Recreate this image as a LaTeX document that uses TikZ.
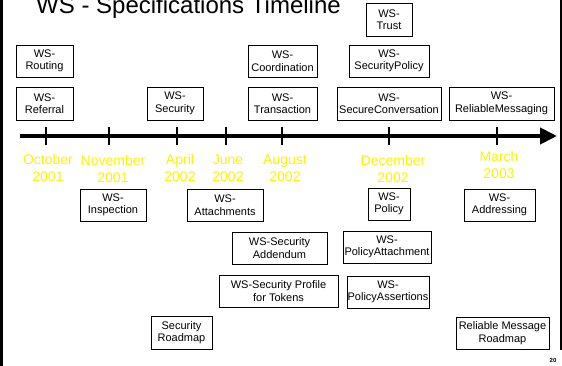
\documentclass[tikz,border=0pt]{standalone}
\usepackage{fontspec}
\setmainfont{Liberation Sans}
\usetikzlibrary{arrows.meta}
\tikzset{
  box/.style={draw=black, line width=0.8pt, fill=white, inner sep=0pt, align=center,
    font=\fontsize{11}{12.5}\selectfont},
  datelbl/.style={text=yellow, align=center, inner sep=0pt, font=\fontsize{14}{17}\selectfont},
  tickmark/.style={line width=2.5pt},
}
\begin{document}
\begin{tikzpicture}[x=1pt,y=-1pt]
\path[use as bounding box, fill=white] (0,0) rectangle (562,366);
\clip (0,0) rectangle (562,366);
% borders
\draw[line width=2.5pt] (1.5,0) -- (1.5,366);
\draw[line width=1.5pt] (561,0) -- (561,350);
% title
\node[anchor=base west, inner sep=0pt, font=\fontsize{24}{28}\selectfont] (title) at (36,14) {WS - Specifications Timeline};
% axis
\coordinate (axs) at (20,136);
\coordinate (axe) at (557,136);
\draw[line width=4pt, -{Triangle[length=17pt,width=16pt]}] (axs) -- (axe);
\foreach \x/\n in {46/t1,109/t2,177/t3,226/t4,282/t5,389/t6,497/t7}{
  \coordinate (\n a) at (\x,127);
  \coordinate (\n b) at (\x,145);
  \draw[tickmark] (\n a) -- (\n b);
}
% dates
\node[datelbl] (d1) at (48,168) {October\\2001};
\node[datelbl] (d2) at (113,169) {November\\2001};
\node[datelbl] (d3) at (180,168) {April\\2002};
\node[datelbl] (d4) at (228,168) {June\\2002};
\node[datelbl] (d5) at (285,168) {August\\2002};
\node[datelbl] (d6) at (393,169) {December\\2002};
\node[datelbl] (d7) at (499,165) {March\\2003};
% boxes above
\node[box, minimum width=57, minimum height=32] (routing) at (44.5,61) {WS-\\Routing};
\node[box, minimum width=57, minimum height=33] (referral) at (44.5,103.5) {WS-\\Referral};
\node[box, minimum width=56, minimum height=33] (security) at (175,103.5) {WS-\\Security};
\node[box, minimum width=69, minimum height=32] (coord) at (282.5,61) {WS-\\Coordination};
\node[box, minimum width=69, minimum height=33] (trans) at (282.5,103.5) {WS-\\Transaction};
\node[box, minimum width=46, minimum height=33] (trust) at (389,19.5) {WS-\\Trust};
\node[box, minimum width=80, minimum height=32] (secpol) at (389,61) {WS-\\SecurityPolicy};
\node[box, minimum width=104, minimum height=33] (secconv) at (389,103.5) {WS-\\SecureConversation};
\node[box, minimum width=105, minimum height=33] (relmsg) at (501.5,103.5) {WS-\\ReliableMessaging};
% boxes below
\node[box, minimum width=66, minimum height=32] (insp) at (113,205) {WS-\\Inspection};
\node[box, minimum width=76, minimum height=32] (attach) at (225,205) {WS-\\Attachments};
\node[box, minimum width=95, minimum height=32] (addendum) at (279.5,248) {WS-Security\\Addendum};
\node[box, minimum width=119, minimum height=32] (profile) at (278.5,291) {WS-Security Profile\\for Tokens};
\node[box, minimum width=42, minimum height=32] (policy) at (389,204) {WS-\\Policy};
\node[box, minimum width=88, minimum height=32] (polattach) at (387,247) {WS-\\PolicyAttachment};
\node[box, minimum width=82, minimum height=32] (polassert) at (388,292) {WS-\\PolicyAssertions};
\node[box, minimum width=71, minimum height=32] (addr) at (499.5,205) {WS-\\Addressing};
\node[box, minimum width=61, minimum height=33] (secroad) at (181.5,332.5) {Security\\Roadmap};
\node[box, minimum width=93, minimum height=32] (relroad) at (502.5,333) {Reliable Message\\Roadmap};
% page number
\node[inner sep=0pt, font=\fontsize{6}{7}\selectfont\bfseries] (pnum) at (553,360) {20};
\end{tikzpicture}
\end{document}
